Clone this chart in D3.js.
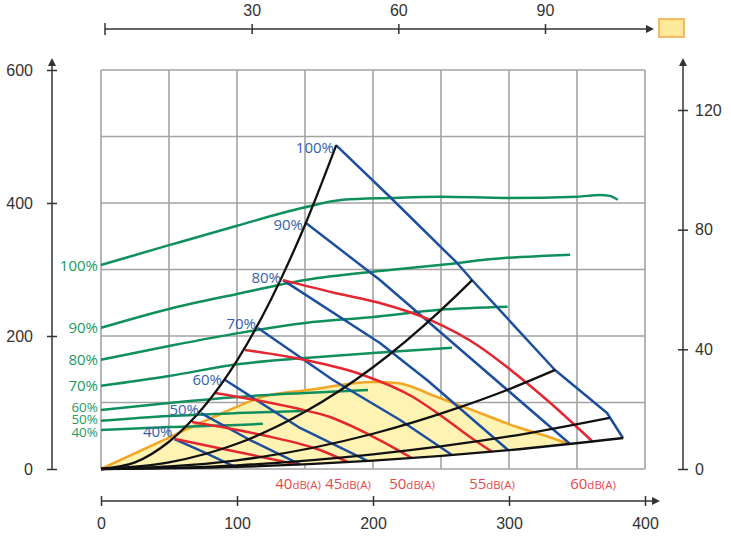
<!DOCTYPE html>
<html>
<head>
<meta charset="utf-8">
<script src="https://cdn.jsdelivr.net/npm/d3@7"></script>
<style>
  body { margin: 0; background: #fff; }
  svg { display: block; font-family: "Open Sans", "DejaVu Sans", sans-serif; }
</style>
</head>
<body>
<svg id="chart" width="731" height="539"></svg>
<script>
// axis ticks
let flowTicks = [0, 100, 200, 300, 400]        // m3/h, bottom
let flowTopTicks = [30, 60, 90]                 // l/s, top
let pressureTicks = [0, 200, 400, 600]          // Pa, left
let powerTicks = [0, 40, 80, 120]               // W, right

// system curves (black), [flow, pressure]
let systemCurves = [
  [[0, 0], [25, 10], [50, 41], [75, 92], [100, 163], [125, 255], [150, 367], [173, 487]],
  [[0, 0], [50, 10], [100, 38], [150, 86], [200, 153], [250, 239], [273, 284]],
  [[0, 0], [100, 13], [200, 53], [264, 93], [300, 120], [334, 149]],
  [[0, 0], [100, 5.5], [200, 22], [300, 49], [374, 77]],
  [[0, 0], [100, 3.2], [200, 12.6], [300, 28.4], [384, 46.6]]
]

// fan speed curves (blue)
let speedNames = ['40%', '50%', '60%', '70%', '80%', '90%', '100%']
let speedCurves = [
  [[54, 45], [76, 25], [98.5, 3.1]],
  [[73.5, 84], [109.6, 43.6], [146.3, 6.8]],
  [[90.4, 135], [146.3, 61.7], [195.6, 12.5]],
  [[115.4, 212], [170.6, 133.8], [219.9, 73.7], [258.1, 21.1]],
  [[133.8, 284], [205.1, 189.5], [239.7, 133.8], [299.3, 28.6]],
  [[150, 371], [205.1, 284.2], [280.9, 150.4], [344.9, 37.6]],
  [[172.8, 487], [212.5, 409], [261.8, 309.8], [272.8, 284.2], [333.8, 148.9], [372.1, 84.2], [383.8, 46.6]]
]
let speedLabelNudge = [-7, -3, 1, -4, -2, 3, 3]

// sound level curves (red)
let soundNames = ['40', '45', '50', '55', '60']
let soundCurves = [
  [[54.4, 45], [93.4, 28.6], [144.9, 6.6]],
  [[66.9, 70.7], [118.4, 51.1], [161, 28.6], [181.6, 10.4]],
  [[83.8, 114.3], [142.6, 91.7], [168.4, 78.2], [197.8, 51.1], [228.7, 16.5]],
  [[105.9, 178.9], [150, 163.9], [192.6, 141.4], [229.4, 108.3], [249.3, 81.2], [271.3, 48.1], [287.5, 26]],
  [[133.8, 284], [172.1, 264.7], [205.1, 249.6], [241.9, 224.1], [278.7, 183.5], [298.5, 153.4], [327.9, 103.8], [361.8, 40.6]]
]

// power curves (green), [flow, power W]
let powerNames = ['40%', '50%', '60%', '70%', '80%', '90%', '100%']
let powerCurves = [
  [[0, 13], [50, 14], [100, 14.7], [119, 15.1]],
  [[0, 16.1], [50, 17.7], [100, 18.7], [148.5, 19.4]],
  [[0, 19.7], [50, 22.1], [100, 24.1], [150, 25.4], [196.3, 26.4]],
  [[0, 27.8], [50, 31.1], [102, 35.1], [150, 37.1], [200, 38.8], [258, 40.5]],
  [[0, 36.5], [50, 41.1], [102, 45.5], [150, 48.8], [200, 50.8], [249, 53.2], [299, 54.2]],
  [[0, 47.2], [50, 53.5], [100, 58.5], [150, 63.2], [205, 66.2], [249, 68.2], [298.5, 70.6], [323, 71.2], [345, 71.6]],
  [[0, 68.2], [50.7, 74.9], [100, 81.3], [148.5, 87.3], [178, 90], [212.5, 90.6], [249, 91], [298.5, 90.6], [350, 91], [367, 91.6], [374, 91.3], [380, 90]]
]
let powerLabelNudge = [2, -2, -3, 0, 0, 0, 1]

// working range (yellow)
let rangeTop = [[0, 0], [50.7, 48], [91.2, 85.7], [118.4, 108.3], [152.2, 118.8], [200, 130.8], [217.6, 129.3], [247.1, 108.3], [278.7, 84.2], [305.9, 63.2], [325, 51.1], [343.4, 38]]
let rangeBottom = [[343.4, 38], [300, 28.4], [200, 12.6], [100, 3.2], [0, 0]]

let svg = d3.select('#chart')

let x = d3.scaleLinear().domain([0, 400]).range([101, 645])
let y = d3.scaleLinear().domain([0, 600]).range([469, 70])
let yPow = d3.scaleLinear().domain([0, 120]).range([469, 110])
let xTop = d3.scaleLinear().domain([0, 90]).range([105, 545])

let axisColor = '#333'
let green = '#0f8f5c', blue = '#1d4f9e', red = '#e3262f'

// grid
let grid = svg.append('g')
grid.selectAll('line.v')
    .data(d3.range(0, 401, 50))
    .enter().append('line')
    .attr('x1', d => x(d)).attr('x2', d => x(d))
    .attr('y1', y(0)).attr('y2', y(600))
grid.selectAll('line.h')
    .data(d3.range(0, 601, 100))
    .enter().append('line')
    .attr('x1', x(0)).attr('x2', x(400))
    .attr('y1', d => y(d)).attr('y2', d => y(d))
grid.selectAll('line').attr('stroke', '#a3a3a3').attr('stroke-width', 1.6)

let line = d3.line().x(d => x(d[0])).y(d => y(d[1])).curve(d3.curveMonotoneX)
let straight = d3.line().x(d => x(d[0])).y(d => y(d[1]))
let linePow = d3.line().x(d => x(d[0])).y(d => yPow(d[1])).curve(d3.curveMonotoneX)

// yellow working area
let topPath = line(rangeTop)
let bottomPath = line(rangeBottom)
svg.append('path')
   .attr('d', topPath + 'L' + bottomPath.slice(1) + 'Z')
   .attr('fill', '#fff3b3')
svg.append('path')
   .attr('d', topPath)
   .attr('fill', 'none').attr('stroke', '#f3a624').attr('stroke-width', 2.5)

// green power curves
svg.selectAll('path.power')
   .data(powerCurves)
   .enter().append('path')
   .attr('class', 'power')
   .attr('d', linePow)
   .attr('fill', 'none').attr('stroke', green).attr('stroke-width', 2.5)

// blue speed curves
svg.selectAll('path.speed')
   .data(speedCurves)
   .enter().append('path')
   .attr('class', 'speed')
   .attr('d', straight)
   .attr('fill', 'none').attr('stroke', blue).attr('stroke-width', 2.5)
   .attr('stroke-linejoin', 'round')

// red sound curves
svg.selectAll('path.sound')
   .data(soundCurves)
   .enter().append('path')
   .attr('class', 'sound')
   .attr('d', line)
   .attr('fill', 'none').attr('stroke', red).attr('stroke-width', 2.5)

// black system curves
svg.selectAll('path.system')
   .data(systemCurves)
   .enter().append('path')
   .attr('class', 'system')
   .attr('d', line)
   .attr('fill', 'none').attr('stroke', '#111').attr('stroke-width', 2.3)

// labels on the curves
svg.selectAll('text.speed')
   .data(speedCurves)
   .enter().append('text')
   .attr('x', d => x(d[0][0]) - 2)
   .attr('y', (d, i) => y(d[0][1]) + speedLabelNudge[i] + 5)
   .attr('text-anchor', 'end')
   .attr('font-size', 15).attr('fill', '#3561ab')
   .text((d, i) => speedNames[i])

svg.selectAll('text.power')
   .data(powerCurves)
   .enter().append('text')
   .attr('x', 98)
   .attr('y', (d, i) => yPow(d[0][1]) + powerLabelNudge[i] + 5)
   .attr('text-anchor', 'end')
   .attr('font-size', (d, i) => i < 3 ? 13.5 : 15).attr('fill', '#1d9a63')
   .text((d, i) => powerNames[i])

let soundLabels = svg.selectAll('text.sound')
   .data(soundCurves)
   .enter().append('text')
   .attr('x', d => x(d[d.length - 1][0]))
   .attr('y', 489)
   .attr('text-anchor', 'middle')
   .attr('fill', '#e8474c').attr('font-size', 15)
soundLabels.append('tspan').text((d, i) => soundNames[i])
soundLabels.append('tspan').attr('font-size', 11.5).text('dB(A)')

// axes
let arrow = (g, x0, y0, dir) => {
  let p = dir === 'right'
    ? [[x0, y0 - 4], [x0 + 8, y0], [x0, y0 + 4]]
    : [[x0 - 4, y0], [x0, y0 - 8], [x0 + 4, y0]]
  g.append('path').attr('d', 'M' + p.join('L') + 'Z').attr('fill', axisColor)
}
let styleAxis = (g) => {
  g.select('.domain').remove()
  g.selectAll('text').attr('fill', axisColor).attr('font-size', 16)
  g.selectAll('.tick line').attr('stroke', axisColor).attr('stroke-width', 1.5)
}

// bottom
let axisBottomG = svg.append('g').attr('transform', 'translate(0,501)')
axisBottomG.call(d3.axisBottom(x).tickValues(flowTicks).tickFormat(d3.format('d')).tickSize(5).tickPadding(12))
styleAxis(axisBottomG)
axisBottomG.selectAll('.tick line').attr('y1', -5).attr('y2', 5)
axisBottomG.append('line').attr('x1', x(0)).attr('x2', 654).attr('stroke', axisColor).attr('stroke-width', 1.5)
arrow(axisBottomG, 652, 0, 'right')

// top
let axisTopG = svg.append('g').attr('transform', 'translate(0,29)')
axisTopG.call(d3.axisTop(xTop).tickValues(flowTopTicks).tickSize(5).tickPadding(8))
styleAxis(axisTopG)
axisTopG.selectAll('.tick line').attr('y1', -5).attr('y2', 5)
axisTopG.append('line').attr('x1', xTop(0)).attr('x2', 648).attr('stroke', axisColor).attr('stroke-width', 1.5)
axisTopG.append('line').attr('x1', xTop(0)).attr('x2', xTop(0)).attr('y1', -6).attr('y2', 6).attr('stroke', axisColor).attr('stroke-width', 1.5)
arrow(axisTopG, 646, 0, 'right')
svg.append('rect').attr('x', 659).attr('y', 19).attr('width', 25).attr('height', 18)
   .attr('fill', '#fde89b').attr('stroke', '#f2a93a').attr('stroke-width', 1.5)

// left
let axisLeftG = svg.append('g').attr('transform', 'translate(52,0)')
axisLeftG.call(d3.axisLeft(y).tickValues(pressureTicks).tickSize(5).tickPadding(14))
styleAxis(axisLeftG)
axisLeftG.selectAll('.tick line').attr('x1', -5).attr('x2', 5)
axisLeftG.append('line').attr('y1', y(0)).attr('y2', 62).attr('stroke', axisColor).attr('stroke-width', 1.5)
arrow(axisLeftG, 0, 66, 'up')

// right
let axisRightG = svg.append('g').attr('transform', 'translate(683,0)')
axisRightG.call(d3.axisRight(yPow).tickValues(powerTicks).tickSize(5).tickPadding(7))
styleAxis(axisRightG)
axisRightG.selectAll('.tick line').attr('x1', -5).attr('x2', 5)
axisRightG.append('line').attr('y1', yPow(0)).attr('y2', 62).attr('stroke', axisColor).attr('stroke-width', 1.5)
arrow(axisRightG, 0, 66, 'up')
</script>
</body>
</html>
